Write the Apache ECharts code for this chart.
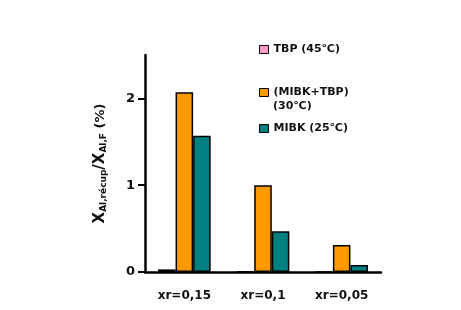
<!DOCTYPE html>
<html>
<head>
<meta charset="utf-8">
<script src="https://cdn.jsdelivr.net/npm/echarts@6/dist/echarts.min.js"></script>
<style>
  html, body { margin: 0; padding: 0; background: #fff; }
  #chart { width: 461px; height: 310px; }
</style>
</head>
<body>
<div id="chart"></div>
<script>
const categories = ['xr=0,15', 'xr=0,1', 'xr=0,05'];
const seriesNames = ['TBP (45℃)', '(MIBK+TBP) (30℃)', 'MIBK (25℃)'];
const tbpValues = [0.03, 0.006, 0];
const mixValues = [2.07, 1.0, 0.31];
const mibkValues = [1.57, 0.47, 0.08];
const yTicks = [0, 1, 2];

const colors = ['#FF99CC', '#FF9900', '#008080'];
const font = 'DejaVu Sans, sans-serif';

const chart = echarts.init(document.getElementById('chart'));

const barStyle = (color) => ({
  color: color,
  borderColor: '#000',
  borderWidth: 1.5
});

// each legend entry is placed on its own, the spacing in the source is uneven
const legendAt = (name, top, fmt) => ({
  data: [name],
  left: 259,
  top: top,
  padding: 0,
  icon: 'rect',
  itemWidth: 9,
  itemHeight: 8,
  formatter: fmt,
  itemStyle: { borderColor: '#000', borderWidth: 1 },
  textStyle: { fontFamily: font, fontWeight: 'bold', fontSize: 11, color: '#111' }
});

chart.setOption({
  animation: false,
  backgroundColor: '#fff',
  grid: { left: 145, right: 80, top: 55, bottom: 38 },
  legend: [
    legendAt(seriesNames[0], 44),
    legendAt(seriesNames[1], 87, () => '(MIBK+TBP)'),
    legendAt(seriesNames[2], 123)
  ],
  graphic: [{
    type: 'text',
    left: 273,
    top: 101,
    style: { text: '(30℃)', font: 'bold 11px ' + font, fill: '#111' }
  }],
  xAxis: {
    type: 'category',
    data: categories,
    axisLine: { lineStyle: { color: '#000', width: 2.5 } },
    axisTick: { show: false },
    axisLabel: { fontFamily: font, fontWeight: 'bold', fontSize: 12, color: '#111', margin: 18 }
  },
  yAxis: {
    type: 'value',
    min: 0,
    max: 2.5,
    interval: 1,
    name: '{x|X}{s|Al,récup}{x|/X}{s|Al,F}{p| (%)}',
    nameLocation: 'middle',
    nameRotate: 90,
    nameGap: 37,
    nameTextStyle: {
      rich: {
        x: { fontFamily: font, fontWeight: 'bold', fontSize: 15, color: '#111' },
        s: { fontFamily: font, fontWeight: 'bold', fontSize: 9, color: '#111', verticalAlign: 'bottom', padding: [6, 0, 0, 0] },
        p: { fontFamily: font, fontWeight: 'bold', fontSize: 13, color: '#111' }
      }
    },
    axisLine: { show: true, lineStyle: { color: '#000', width: 2.5 } },
    axisTick: { show: true, length: 7, customValues: yTicks, lineStyle: { color: '#000', width: 2 } },
    axisLabel: { customValues: yTicks, fontFamily: font, fontWeight: 'bold', fontSize: 13, color: '#111', margin: 10 },
    splitLine: { show: false }
  },
  series: [
    { name: seriesNames[0], type: 'bar', data: tbpValues, itemStyle: barStyle(colors[0]), barGap: '0%', barCategoryGap: '33%' },
    { name: seriesNames[1], type: 'bar', data: mixValues, itemStyle: barStyle(colors[1]), barGap: '0%', barCategoryGap: '33%' },
    { name: seriesNames[2], type: 'bar', data: mibkValues, itemStyle: barStyle(colors[2]), barGap: '0%', barCategoryGap: '33%' }
  ]
});
</script>
</body>
</html>
